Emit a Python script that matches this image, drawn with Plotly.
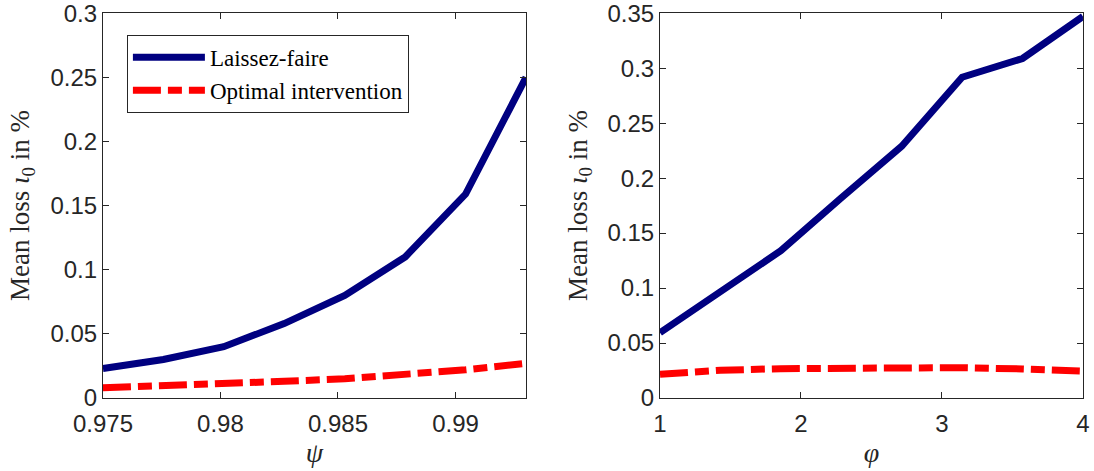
import plotly.graph_objects as go

# Left panel: psi
psi = [0.975, 0.97757, 0.98014, 0.98271, 0.98529, 0.98786, 0.99043, 0.993]
left_laissez = [0.023, 0.030, 0.040, 0.058, 0.080, 0.110, 0.159, 0.250]
left_optimal = [0.008, 0.0093, 0.011, 0.013, 0.015, 0.018, 0.022, 0.027]

# Right panel: varphi
varphi = [1.0, 1.4286, 1.8571, 2.2857, 2.7143, 3.1429, 3.5714, 4.0]
right_laissez = [0.0594, 0.0973, 0.134, 0.182, 0.229, 0.2918, 0.3088, 0.347]
right_optimal = [0.0215, 0.0252, 0.0267, 0.0273, 0.0279, 0.0276, 0.0264, 0.0245]

left_yticks = [0, 0.05, 0.1, 0.15, 0.2, 0.25, 0.3]
right_yticks = [0, 0.05, 0.1, 0.15, 0.2, 0.25, 0.3, 0.35]
left_xticks = [0.975, 0.98, 0.985, 0.99]
right_xticks = [1, 2, 3, 4]

BLUE = "#000080"
RED = "#ff0000"
DASH = "28px,7px,14px,7px"
AX = "#262626"
SANS = "Liberation Sans, Arial, sans-serif"
SERIF = "Liberation Serif, Times New Roman, serif"

fig = go.Figure()
fig.add_trace(go.Scatter(x=psi, y=left_laissez, mode="lines", name="Laissez-faire",
                         line=dict(color=BLUE, width=7), xaxis="x", yaxis="y"))
fig.add_trace(go.Scatter(x=psi, y=left_optimal, mode="lines", name="Optimal intervention",
                         line=dict(color=RED, width=7, dash=DASH), xaxis="x", yaxis="y"))
fig.add_trace(go.Scatter(x=varphi, y=right_laissez, mode="lines", name="Laissez-faire",
                         line=dict(color=BLUE, width=7), xaxis="x2", yaxis="y2",
                         showlegend=False))
fig.add_trace(go.Scatter(x=varphi, y=right_optimal, mode="lines", name="Optimal intervention",
                         line=dict(color=RED, width=7, dash=DASH), xaxis="x2", yaxis="y2",
                         showlegend=False))

common = dict(showline=True, linecolor=AX, linewidth=1, mirror="ticks",
              ticks="inside", ticklen=6, tickcolor=AX, showgrid=False, zeroline=False,
              automargin=False, ticklabeloverflow="allow",
              tickfont=dict(family=SANS, size=24, color=AX))

ytitle = dict(text="Mean loss <i>ι</i><sub>0</sub> in %",
              font=dict(family=SERIF, size=27, color=AX), standoff=12)

fig.update_layout(
    width=1094, height=471,
    margin=dict(l=0, r=0, t=0, b=0),
    paper_bgcolor="white", plot_bgcolor="white",
    xaxis=dict(domain=[0.0941, 0.4808], range=[0.975, 0.993], tickvals=left_xticks,
               ticktext=["0.975", "0.98", "0.985", "0.99"], anchor="y", ticklabelstandoff=4,
               title=dict(text="<i>ψ</i>", font=dict(family=SERIF, size=28, color=AX), standoff=6),
               **common),
    yaxis=dict(domain=[0.155, 0.972], range=[0, 0.30001], tickvals=left_yticks, anchor="x",
               title=ytitle, **common),
    xaxis2=dict(domain=[0.6033, 0.9899], range=[1, 4], tickvals=right_xticks, anchor="y2",
                ticklabelstandoff=4,
                title=dict(text="<i>φ</i>", font=dict(family=SERIF, size=28, color=AX), standoff=6),
                **common),
    yaxis2=dict(domain=[0.155, 0.972], range=[0, 0.35001], tickvals=right_yticks, anchor="x2",
                title=ytitle, **common),
    legend=dict(x=0.116, y=0.926, xanchor="left", yanchor="top",
                bgcolor="white", bordercolor=AX, borderwidth=1,
                font=dict(family=SERIF, size=23, color="black"),
                tracegroupgap=0, itemwidth=72),
    showlegend=True,
)

fig.write_html("out.html")
